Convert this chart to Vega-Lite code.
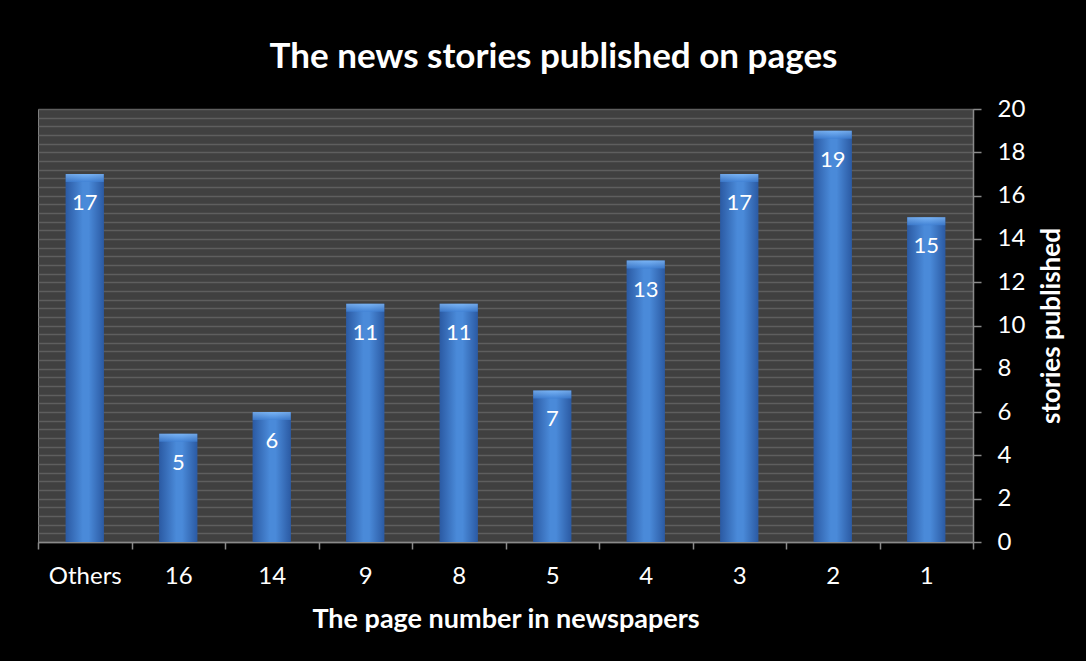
{
  "$schema": "https://vega.github.io/schema/vega-lite/v6.json",
  "width": 935,
  "height": 433,
  "autosize": {"type": "none"},
  "padding": {"left": 38, "top": 109, "right": 113, "bottom": 119},
  "background": "#000000",
  "title": {
    "text": "The news stories published on pages",
    "font": "Lato",
    "fontSize": 35,
    "fontWeight": "bold",
    "color": "#ffffff",
    "anchor": "middle",
    "dx": 48,
    "offset": 22
  },
  "config": {
    "view": {"fill": "#404040", "stroke": "#7f7f7f", "strokeWidth": 1},
    "font": "Lato"
  },
  "data": {
    "values": [
      {"page": "Others", "stories": 17},
      {"page": "16", "stories": 5},
      {"page": "14", "stories": 6},
      {"page": "9", "stories": 11},
      {"page": "8", "stories": 11},
      {"page": "5", "stories": 7},
      {"page": "4", "stories": 13},
      {"page": "3", "stories": 17},
      {"page": "2", "stories": 19},
      {"page": "1", "stories": 15}
    ]
  },
  "encoding": {
    "x": {
      "field": "page",
      "type": "nominal",
      "sort": null,
      "scale": {"paddingInner": 0, "paddingOuter": 0},
      "axis": {
        "title": "The page number in newspapers",
        "titleFont": "Lato",
        "titleFontSize": 27,
        "titleFontWeight": "bold",
        "titleColor": "#ffffff",
        "titlePadding": 18,
        "labelAngle": 0,
        "labelColor": "#ffffff",
        "labelFontSize": 24,
        "labelFont": "Lato",
        "labelPadding": 15,
        "tickBand": "extent",
        "tickColor": "#8a8a8a",
        "tickSize": 7,
        "tickWidth": 1.5,
        "domainColor": "#8a8a8a",
        "domainWidth": 1.5,
        "grid": false
      }
    }
  },
  "layer": [
    {
      "mark": {
        "type": "bar",
        "width": {"band": 0.41},
        "color": {
          "gradient": "linear",
          "x1": 0, "x2": 1, "y1": 0, "y2": 0,
          "stops": [
            {"offset": 0, "color": "#2b5aa3"},
            {"offset": 0.45, "color": "#4a8ad9"},
            {"offset": 0.6, "color": "#4a8ad9"},
            {"offset": 1, "color": "#2b5aa3"}
          ]
        }
      },
      "encoding": {
        "y": {
          "field": "stories",
          "type": "quantitative",
          "scale": {"domain": [0, 20], "nice": false},
          "axis": {
            "orient": "left",
            "values": [0, 0.4, 0.8, 1.2, 1.6, 2, 2.4, 2.8, 3.2, 3.6, 4, 4.4, 4.8, 5.2, 5.6, 6, 6.4, 6.8, 7.2, 7.6, 8, 8.4, 8.8, 9.2, 9.6, 10, 10.4, 10.8, 11.2, 11.6, 12, 12.4, 12.8, 13.2, 13.6, 14, 14.4, 14.8, 15.2, 15.6, 16, 16.4, 16.8, 17.2, 17.6, 18, 18.4, 18.8, 19.2, 19.6, 20],
            "grid": true,
            "gridColor": "#5e5e5e",
            "gridWidth": 1.6,
            "labels": false,
            "ticks": false,
            "domain": false,
            "title": null
          }
        }
      }
    },
    {
      "mark": {
        "type": "tick",
        "size": 38,
        "thickness": 8,
        "yOffset": 4,
        "color": {
          "gradient": "linear",
          "x1": 0, "x2": 0, "y1": 0, "y2": 1,
          "stops": [
            {"offset": 0, "color": "#8cc4ff"},
            {"offset": 1, "color": "#3f80d4"}
          ]
        }
      },
      "encoding": {
        "y": {
          "field": "stories",
          "type": "quantitative",
          "axis": {
            "orient": "right",
            "values": [0, 2, 4, 6, 8, 10, 12, 14, 16, 18, 20],
            "grid": false,
            "labelColor": "#ffffff",
            "labelFontSize": 24,
            "labelFont": "Lato",
            "labelPadding": 16,
            "tickColor": "#8a8a8a",
            "tickSize": 8,
            "tickWidth": 1.5,
            "domainColor": "#8a8a8a",
            "domainWidth": 1.5,
            "title": "stories published",
            "titleAngle": 270,
            "titleFont": "Lato",
            "titleFontSize": 26,
            "titleFontWeight": "bold",
            "titleColor": "#ffffff",
            "titlePadding": 40
          }
        }
      }
    },
    {
      "mark": {
        "type": "text",
        "baseline": "top",
        "dy": 19,
        "fontSize": 22,
        "font": "Lato",
        "color": "#ffffff"
      },
      "encoding": {
        "y": {"field": "stories", "type": "quantitative", "axis": null},
        "text": {"field": "stories", "type": "quantitative"}
      }
    }
  ],
  "resolve": {"axis": {"y": "independent"}}
}
